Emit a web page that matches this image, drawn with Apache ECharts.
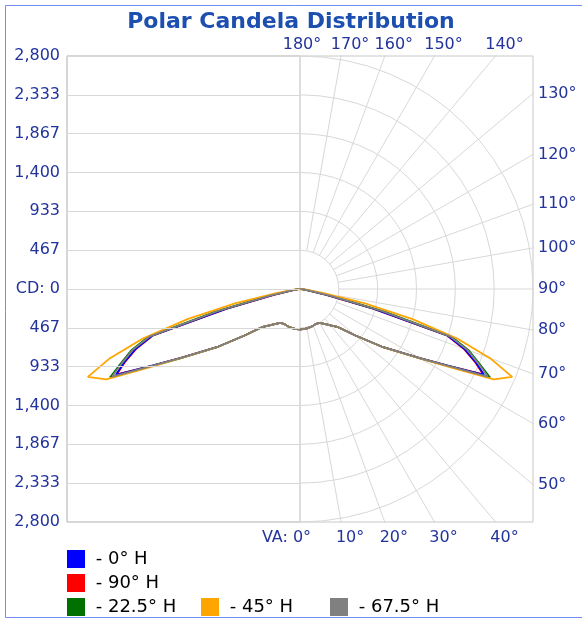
<!DOCTYPE html>
<html>
<head>
<meta charset="utf-8">
<title>Polar Candela Distribution</title>
<script src="https://cdn.jsdelivr.net/npm/echarts@6/dist/echarts.min.js"></script>
<style>
  html, body { margin: 0; padding: 0; background: #fff; }
</style>
</head>
<body>
<div id="main" style="width: 582px; height: 619px;"></div>
<script>
// vertical angles (deg, 0 = nadir) the candela values are read at
var verticalAngles = [0, 5, 10, 15, 20, 25, 30, 35, 40, 45, 50, 55, 60, 62.5, 65, 67.5, 70, 72.5, 75, 77.5, 80, 85, 90];

// candela per horizontal plane
var cd0H   = [485, 483, 480, 475, 468, 462, 470, 510, 570, 650, 870, 1220, 1660, 1990, 2440, 2280, 2100, 1860, 930, 330, 100, 20, 0];
var cd90H  = [485, 483, 480, 475, 468, 462, 470, 510, 570, 650, 870, 1220, 1655, 1985, 2430, 2270, 2090, 1850, 910, 320, 95, 18, 0];
var cd225H = [485, 483, 480, 475, 468, 462, 470, 510, 570, 650, 870, 1220, 1665, 2000, 2520, 2330, 2160, 1910, 1060, 400, 120, 25, 0];
var cd45H  = [485, 483, 480, 475, 468, 462, 470, 510, 570, 650, 870, 1225, 1675, 2040, 2570, 2760, 2430, 1980, 1400, 800, 300, 60, 0];
var cd675H = [485, 483, 480, 475, 468, 462, 470, 510, 570, 650, 870, 1220, 1660, 1995, 2490, 2310, 2140, 1890, 1010, 370, 110, 22, 0];

var seriesNames  = ['0° H', '90° H', '22.5° H', '45° H', '67.5° H'];
var seriesValues = [cd0H, cd90H, cd225H, cd45H, cd675H];
var seriesColors = ['#0000ff', '#ff0000', '#007000', '#ffa500', '#808080'];

// tick labels
var cdTickLabels = ['2,800', '2,333', '1,867', '1,400', '933', '467', 'CD: 0', '467', '933', '1,400', '1,867', '2,333', '2,800'];
var topAngles    = [180, 170, 160, 150, 140];
var rightAngles  = [130, 120, 110, 100, 90, 80, 70, 60, 50];
var bottomAngles = [0, 10, 20, 30, 40];

var CD_MAX = 2800;
var FONT = 'DejaVu Sans';
var LABEL_COLOR = '#22339c';
var GRID_COLOR = '#d8d8d8';

var myChart = echarts.init(document.getElementById('main'));

// right half uses the angle as is, left half mirrors it (360 - angle)
function toPolar(values) {
	var pts = [];
	for (var i = 0; i < verticalAngles.length; i++) {
		pts.push([values[i], verticalAngles[i]]);
	}
	for (var j = verticalAngles.length - 1; j >= 0; j--) {
		pts.push([values[j], 360 - verticalAngles[j]]);
	}
	return pts;
}

function tanDeg(a) {
	return Math.tan(a * Math.PI / 180);
}

// where each radial grid line leaves the square box, in box units
var topTickValues = topAngles.map(function (a) { return CD_MAX * tanDeg(180 - a); });
var rightTickValues = rightAngles.map(function (a) { return CD_MAX * tanDeg(a - 90); });
var bottomTickValues = bottomAngles.map(function (a) { return CD_MAX * tanDeg(a); });

function nearestLabel(values, labels) {
	return function (v) {
		var best = 0;
		for (var i = 1; i < values.length; i++) {
			if (Math.abs(values[i] - v) < Math.abs(values[best] - v)) best = i;
		}
		return labels[best];
	};
}

var topLabels = topAngles.map(function (a) { return a === 180 ? '{mid|180°}' : a + '°'; });
var rightLabels = rightAngles.map(function (a) { return a + '°'; });
var bottomLabels = bottomAngles.map(function (a) { return a === 0 ? '{va|VA: 0°}' : a + '°'; });

var labelStyle = { color: LABEL_COLOR, fontSize: 16, fontFamily: FONT };

// draw order: red under blue
var drawOrder = [1, 0, 2, 3, 4];
var series = drawOrder.map(function (k) {
	return {
		name: seriesNames[k],
		type: 'line',
		coordinateSystem: 'polar',
		polarIndex: 2,
		data: toPolar(seriesValues[k]),
		symbol: 'none',
		smooth: false,
		color: seriesColors[k],
		lineStyle: { width: 1.8, color: seriesColors[k] },
		animation: false
	};
});

function legendAt(name, left, top) {
	return {
		data: [name],
		left: left,
		top: top,
		padding: 0,
		icon: 'rect',
		itemWidth: 18,
		itemHeight: 18,
		selectedMode: false,
		formatter: ' - {name}',
		itemStyle: { borderWidth: 0 },
		textStyle: { color: '#000', fontSize: 18, fontFamily: FONT },
		z: 60
	};
}

var option = {
	animation: false,
	backgroundColor: '#fff',
	textStyle: { fontFamily: FONT },
	title: {
		text: 'Polar Candela Distribution',
		left: 'center',
		top: 6,
		z: 60,
		textStyle: { color: '#1d4fb1', fontSize: 22, fontWeight: 'bold', fontFamily: FONT }
	},
	legend: [
		legendAt('0° H', 67, 550),
		legendAt('90° H', 67, 574),
		legendAt('22.5° H', 67, 598),
		legendAt('45° H', 201, 598),
		legendAt('67.5° H', 330, 598)
	],
	grid: [
		// left half: horizontal candela lines
		{ left: 67, top: 56, width: 233, height: 466, show: true, borderColor: '#c8c8c8', borderWidth: 1, backgroundColor: 'transparent' },
		// whole square box, carries the angle labels
		{ left: 67, top: 56, width: 466, height: 466, show: true, borderColor: '#c8c8c8', borderWidth: 1, backgroundColor: 'transparent' }
	],
	xAxis: [
		{ gridIndex: 0, type: 'value', min: 0, max: 1, show: false },
		{
			gridIndex: 1, type: 'value', position: 'top', min: -CD_MAX, max: CD_MAX, z: 60,
			axisLine: { show: false }, axisTick: { show: false }, splitLine: { show: false },
			axisLabel: Object.assign({
				customValues: topTickValues,
				formatter: nearestLabel(topTickValues, topLabels),
				margin: 3,
				padding: [0, 0, 0, 18],
				rich: { mid: { color: LABEL_COLOR, fontSize: 16, fontFamily: FONT, padding: [0, 14, 0, 0] } }
			}, labelStyle)
		},
		{
			gridIndex: 1, type: 'value', position: 'bottom', min: -CD_MAX, max: CD_MAX, z: 60,
			axisLine: { show: false }, axisTick: { show: false }, splitLine: { show: false },
			axisLabel: Object.assign({
				customValues: bottomTickValues,
				formatter: nearestLabel(bottomTickValues, bottomLabels),
				margin: 8,
				padding: [0, 0, 0, 18],
				rich: { va: { color: LABEL_COLOR, fontSize: 16, fontFamily: FONT, padding: [0, 45, 0, 0] } }
			}, labelStyle)
		}
	],
	yAxis: [
		{
			gridIndex: 0, type: 'value', inverse: true, min: 0, max: 12, interval: 1, z: 60,
			axisLine: { show: false }, axisTick: { show: false },
			splitLine: { show: true, lineStyle: { color: GRID_COLOR, width: 1 } },
			axisLabel: Object.assign({
				margin: 7,
				formatter: function (v) { return cdTickLabels[v]; }
			}, labelStyle)
		},
		{
			gridIndex: 1, type: 'value', position: 'right', min: -CD_MAX, max: CD_MAX, z: 60,
			axisLine: { show: false }, axisTick: { show: false }, splitLine: { show: false },
			axisLabel: Object.assign({
				customValues: rightTickValues,
				formatter: nearestLabel(rightTickValues, rightLabels),
				margin: 5
			}, labelStyle)
		}
	],
	polar: [
		{ center: [300, 289], radius: [38.83, 233] },   // arcs, right half
		{ center: [300, 289], radius: [38.83, 340] },   // radial lines, right half
		{ center: [300, 289], radius: 233 }              // data
	],
	radiusAxis: [
		{
			polarIndex: 0, type: 'value', min: 1, max: 6, interval: 1,
			axisLine: { show: false }, axisTick: { show: false }, axisLabel: { show: false },
			splitLine: { show: true, lineStyle: { color: GRID_COLOR, width: 1 } }
		},
		{
			polarIndex: 1, type: 'value', min: 0, max: 1,
			axisLine: { show: false }, axisTick: { show: false }, axisLabel: { show: false }, splitLine: { show: false }
		},
		{
			polarIndex: 2, type: 'value', min: 0, max: CD_MAX,
			axisLine: { show: false }, axisTick: { show: false }, axisLabel: { show: false }, splitLine: { show: false }
		}
	],
	angleAxis: [
		{
			polarIndex: 0, type: 'value', min: 0, max: 180, startAngle: -90, endAngle: 90, clockwise: false,
			axisLine: { show: false }, axisTick: { show: false }, axisLabel: { show: false }, splitLine: { show: false }
		},
		{
			polarIndex: 1, type: 'value', min: 0, max: 180, interval: 10, startAngle: -90, endAngle: 90, clockwise: false,
			axisLine: { show: false }, axisTick: { show: false }, axisLabel: { show: false },
			splitLine: { show: true, lineStyle: { color: GRID_COLOR, width: 1 } }
		},
		{
			polarIndex: 2, type: 'value', min: 0, max: 360, startAngle: -90, clockwise: false,
			axisLine: { show: false }, axisTick: { show: false }, axisLabel: { show: false }, splitLine: { show: false }
		}
	],
	graphic: [
		// white frame hiding the radial lines outside the square box
		{ type: 'rect', silent: true, z: 50, shape: { x: 0, y: 0, width: 582, height: 55 }, style: { fill: '#fff' } },
		{ type: 'rect', silent: true, z: 50, shape: { x: 534, y: 0, width: 48, height: 619 }, style: { fill: '#fff' } },
		{ type: 'rect', silent: true, z: 50, shape: { x: 0, y: 523, width: 582, height: 96 }, style: { fill: '#fff' } },
		// outer blue frame
		{ type: 'rect', silent: true, z: 70, shape: { x: 5.5, y: 5.5, width: 700, height: 612 }, style: { fill: 'none', stroke: '#6f8ff0', lineWidth: 1 } }
	],
	series: series
};

myChart.setOption(option);
</script>
</body>
</html>
